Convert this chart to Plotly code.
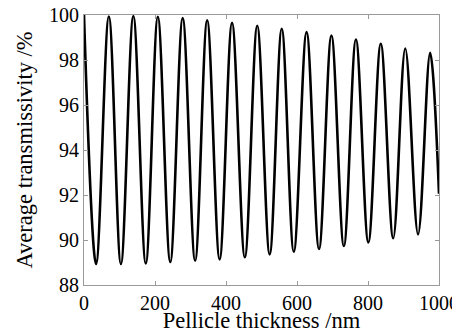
import plotly.graph_objects as go

# Alternating peaks and troughs of transmissivity curve
thickness_nm = [0, 34, 70, 104, 139, 174, 208, 243, 278, 313, 347, 382, 417, 453,
                488, 523, 557, 591, 627, 662, 697, 732, 766, 801, 836, 871, 905,
                941, 975, 1000]
transmissivity = [100.0, 88.93, 99.93, 88.93, 99.95, 88.96, 99.92, 89.02, 99.86,
                  89.08, 99.76, 89.14, 99.65, 89.23, 99.52, 89.36, 99.39, 89.48,
                  99.24, 89.60, 99.09, 89.73, 98.91, 89.89, 98.72, 90.08, 98.51,
                  90.25, 98.32, 92.06]

x_ticks = [0, 200, 400, 600, 800, 1000]
y_ticks = [88, 90, 92, 94, 96, 98, 100]

FONT = "Liberation Serif"

fig = go.Figure()
fig.add_trace(go.Scatter(
    x=thickness_nm, y=transmissivity, mode="lines",
    line=dict(color="black", width=2.6, shape="spline", smoothing=1.0),
    showlegend=False))

axis_common = dict(showgrid=False, zeroline=False, showline=True, linecolor="#9a9a9a",
                   linewidth=1, mirror="ticks", ticks="inside", ticklen=4,
                   tickcolor="#9a9a9a", automargin=False, ticklabeloverflow="allow",
                   tickfont=dict(family=FONT, size=20, color="black"))

# page body adds an 8px offset, so the figure is sized to fit the window
fig.update_layout(
    width=452, height=325,
    margin=dict(l=76, r=21, t=7, b=48, autoexpand=False),
    paper_bgcolor="white", plot_bgcolor="white",
    xaxis=dict(range=[0, 1000], tickvals=x_ticks,
               title=dict(text="Pellicle thickness /nm", standoff=0,
                          font=dict(family=FONT, size=22.5, color="black")),
               **axis_common),
    yaxis=dict(range=[88, 100], tickvals=y_ticks,
               title=dict(text="Average transmissivity /%", standoff=10,
                          font=dict(family=FONT, size=22.5, color="black")),
               **axis_common),
)

fig.write_html("out.html")
